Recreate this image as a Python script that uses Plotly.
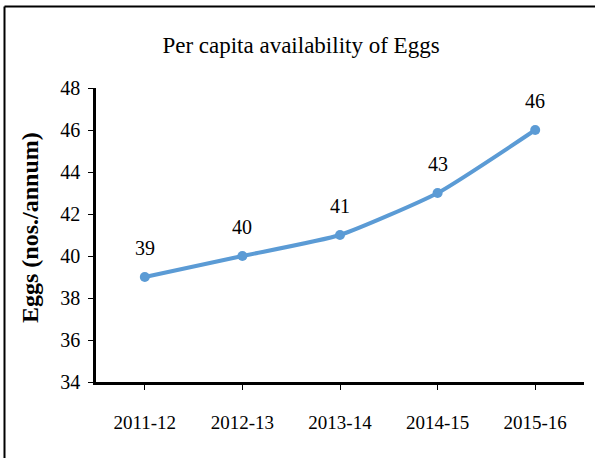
import plotly.graph_objects as go

years = ["2011-12", "2012-13", "2013-14", "2014-15", "2015-16"]
eggs = [39, 40, 41, 43, 46]
y_ticks = [34, 36, 38, 40, 42, 44, 46, 48]

FONT = "Liberation Serif"
W, H = 595, 458
L, R, T, B = 96, 11, 88, 76
pw, ph = W - L - R, H - T - B


def px2x(p):
    return (p - L) / pw


def px2y(p):
    return 1 - (p - T) / ph


fig = go.Figure()
fig.add_trace(go.Scatter(
    x=list(range(len(years))), y=eggs, mode="lines+markers",
    line=dict(color="#5B9BD5", width=4, shape="spline", smoothing=0.5),
    marker=dict(color="#5B9BD5", size=10),
    hoverinfo="skip", showlegend=False,
))
for i, v in enumerate(eggs):
    fig.add_annotation(x=i, y=v, text=str(v), showarrow=False, yshift=29,
                       font=dict(family=FONT, size=20, color="black"))

fig.add_annotation(xref="paper", yref="paper", x=px2x(30), y=px2y(228),
                   text="<b>Eggs (nos./annum)</b>", textangle=-90, showarrow=False,
                   xanchor="center", yanchor="middle",
                   font=dict(family=FONT, size=24, color="black"))

fig.add_shape(type="line", xref="paper", yref="paper",
              x0=px2x(4.5), x1=px2x(W + 5), y0=px2y(6.5), y1=px2y(6.5),
              line=dict(color="black", width=2))
fig.add_shape(type="line", xref="paper", yref="paper",
              x0=px2x(4.5), x1=px2x(4.5), y0=px2y(6.5), y1=px2y(H + 5),
              line=dict(color="black", width=2))

fig.update_layout(
    width=W, height=H,
    margin=dict(l=L, r=R, t=T, b=B),
    paper_bgcolor="white", plot_bgcolor="white",
    font=dict(family=FONT, color="black"),
    title=dict(text="Per capita availability of Eggs", x=301 / W, xanchor="center",
               y=1 - 45 / H, yanchor="middle",
               font=dict(family=FONT, size=23, color="black")),
    xaxis=dict(
        tickmode="array", tickvals=list(range(len(years))), ticktext=years,
        range=[-0.5, 4.5], showgrid=False, zeroline=False,
        showline=True, linecolor="black", linewidth=2.5,
        ticks="outside", ticklen=5, tickwidth=1, tickcolor="black",
        tickfont=dict(family=FONT, size=19), ticklabelstandoff=16,
    ),
    yaxis=dict(
        tickmode="array", tickvals=y_ticks, range=[34, 48],
        showgrid=False, zeroline=False,
        showline=True, linecolor="black", linewidth=2.5,
        ticks="outside", ticklen=5, tickwidth=1, tickcolor="black",
        tickfont=dict(family=FONT, size=20), ticklabelstandoff=4,
    ),
)

fig.write_html("out.html", config={"displayModeBar": False},
               post_script="document.body.style.margin='0';document.body.style.overflow='hidden';")
